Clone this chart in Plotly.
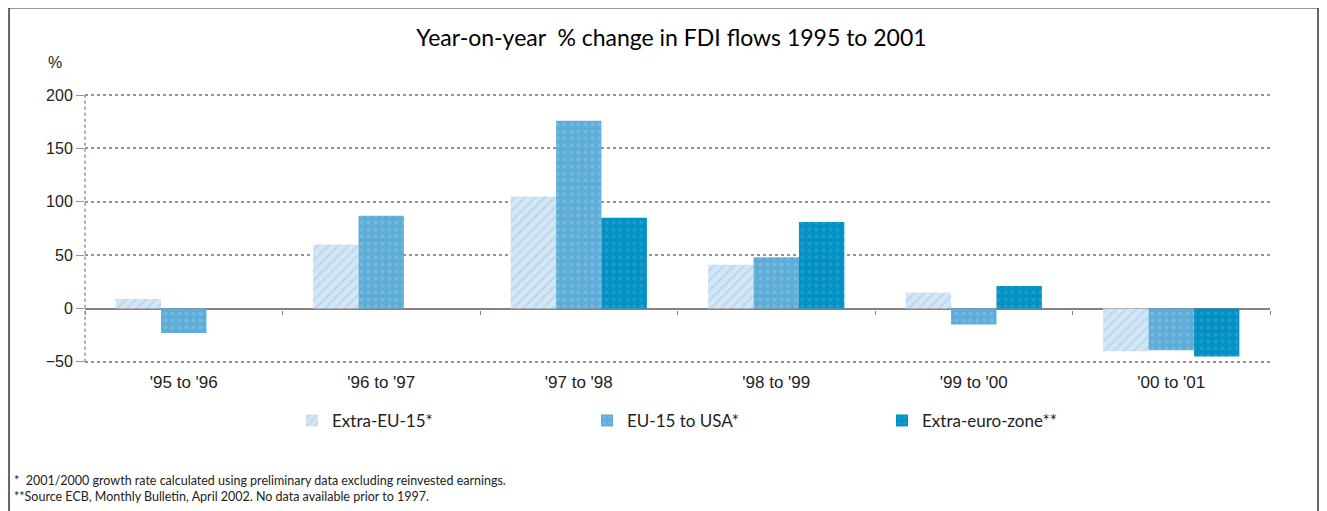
import plotly.graph_objects as go

periods = ["'95 to '96", "'96 to '97", "'97 to '98", "'98 to '99", "'99 to '00", "'00 to '01"]
extra_eu15 = [9, 60, 105, 41, 15, -40]
eu15_to_usa = [-23, 87, 176, 48, -15, -39]
extra_euro_zone = [None, None, 85, 81, 21, -45]

series = [
    ("Extra-EU-15*", extra_eu15, "#cfe8f5", "/", "#b9b6e0"),
    ("EU-15 to USA*", eu15_to_usa, "#5eadd9", ".", "#8cc6e6"),
    ("Extra-euro-zone**", extra_euro_zone, "#0391c4", ".", "#3aa8d4"),
]

fig = go.Figure()
for name, vals, col, shape, fg in series:
    fig.add_trace(go.Bar(
        x=periods, y=vals, name=name,
        marker=dict(color=col, line_width=0,
                    pattern=dict(shape=shape, fgcolor=fg, bgcolor=col, size=7, solidity=0.25)),
    ))

# invisible helper trace so the zero-line tick axis gets drawn
fig.add_trace(go.Scatter(x=periods, y=[None] * len(periods), xaxis="x2",
                         showlegend=False, hoverinfo="skip"))

grid_col = "#9a9090"

fig.update_layout(
    width=1327, height=511,
    paper_bgcolor="white", plot_bgcolor="white",
    margin=dict(l=77, r=65, t=85, b=155),
    barmode="group", bargap=0.31, bargroupgap=0,
    title=dict(text="Year-on-year  % change in FDI flows 1995 to 2001", x=0.5, xanchor="center",
               y=0.941, yanchor="middle", font=dict(family="Lato", size=23, color="black")),
    font=dict(family="Liberation Sans", size=16, color="#222"),
    showlegend=True,
    legend=dict(orientation="h", x=0.1747, xanchor="left", y=-0.21, yanchor="middle",
                entrywidth=250, entrywidthmode="pixels",
                font=dict(family="Lato", size=17, color="#222"), itemwidth=30,
                tracegroupgap=0),
    xaxis=dict(type="category", showgrid=False, showline=False, ticks="",
               tickfont=dict(size=17), ticklabelstandoff=6),
    xaxis2=dict(type="category", matches="x", overlaying="x", anchor="free", position=0.2,
                showticklabels=False, showgrid=False, showline=False,
                ticks="outside", tickson="boundaries", ticklen=4, tickcolor="#8a8080"),
    yaxis=dict(range=[-52, 202], tickvals=[-50, 0, 50, 100, 150, 200],
               showgrid=True, gridcolor=grid_col, griddash="dot", gridwidth=1.5,
               zeroline=True, zerolinecolor="#8a8080", zerolinewidth=1.5,
               showline=False,
               ticks="outside", ticklen=8, tickcolor=grid_col,
               tickfont=dict(size=16)),
    annotations=[
        dict(text="%", xref="paper", yref="paper", x=-0.025, y=1.112, xanchor="center",
             yanchor="middle", showarrow=False, font=dict(family="Liberation Sans", size=16)),
        dict(text="*  2001/2000 growth rate calculated using preliminary data excluding reinvested earnings.<br>"
                  "**Source ECB, Monthly Bulletin, April 2002. No data available prior to 1997.",
             xref="paper", yref="paper", x=-0.062, y=-0.395, xanchor="left", yanchor="top",
             align="left", showarrow=False, font=dict(family="Lato", size=12.5, color="#222")),
    ],
    shapes=[
        # dotted y-axis line
        dict(type="line", xref="paper", yref="y", x0=0, x1=0, y0=-50, y1=200,
             line=dict(color=grid_col, width=1.5, dash="dot")),
        # outer frame
        dict(type="rect", xref="paper", yref="paper", x0=-0.0641, x1=1.0405, y0=-0.62, y1=1.315,
             line=dict(color="#333", width=1.5), layer="above"),
    ],
)

fig.write_html("out.html")
